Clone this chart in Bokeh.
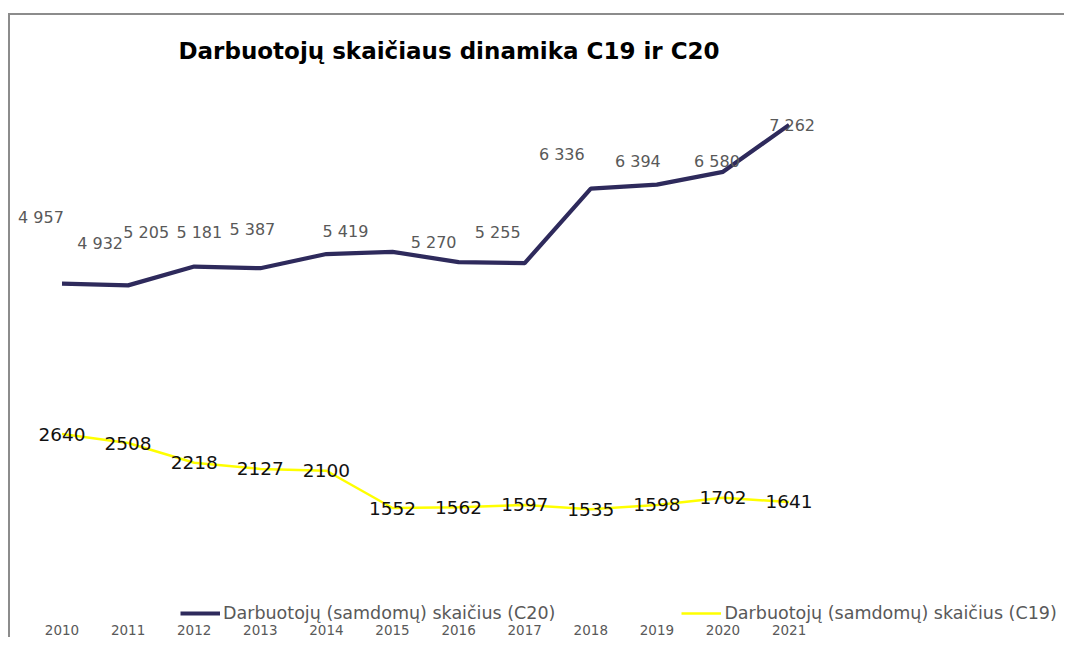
from bokeh.plotting import figure
from bokeh.models import ColumnDataSource, FixedTicker, Range1d, Label, Legend, LegendItem
from bokeh.core.properties import value
from bokeh.embed import file_html
from bokeh.resources import INLINE

# ---- data ----
years = [2010, 2011, 2012, 2013, 2014, 2015, 2016, 2017, 2018, 2019, 2020, 2021]
c20 = [4957, 4932, 5205, 5181, 5387, 5419, 5270, 5255, 6336, 6394, 6580, 7262]
c19 = [2640, 2508, 2218, 2127, 2100, 1552, 1562, 1597, 1535, 1598, 1702, 1641]
year_labels = [str(y) for y in years]
title_text = "Darbuotojų skaičiaus dinamika C19 ir C20"
c20_name = "Darbuotojų (samdomų) skaičius (C20)"
c19_name = "Darbuotojų (samdomų) skaičius (C19)"

# ---- label placement (pixels, screen) ----
c20_dx = [-21, -28, -48, -61, -74, -47, -25, -27, -29, -19, -6, 3]
c20_dy = [-66, -42, -34, -36, -25, -20, -20, -31, -34, -23, -10, 1]

FONT = "DejaVu Sans"
C20_COLOR = "#2e2a5c"
C19_COLOR = "#ffff00"
GRAY = "#595959"

src20 = ColumnDataSource(dict(
    x=years, y=c20,
    lab=[f"{v:,}".replace(",", " ") for v in c20],
    dx=c20_dx, dy=c20_dy))
src19 = ColumnDataSource(dict(x=years, y=c19, lab=[str(v) for v in c19]))

p = figure(frame_width=1054, frame_height=609,
           x_range=Range1d(2009.2209, 2025.1664),
           y_range=Range1d(10, 8849),
           output_backend="svg", toolbar_location=None,
           y_axis_location=None, min_border=0,
           styles={"margin-top": "13px", "margin-left": "8px",
                   "border-top": "2px solid #8c8c8c",
                   "border-left": "2px solid #8c8c8c"})
p.extra_y_ranges = {"c19": Range1d(-161, 8795)}

p.xgrid.visible = False
p.ygrid.visible = False
p.outline_line_color = None
p.background_fill_color = "white"
p.border_fill_color = "white"

ax = p.xaxis[0]
ax.ticker = FixedTicker(ticks=years)
ax.major_label_overrides = {y: s for y, s in zip(years, year_labels)}
ax.axis_line_color = None
ax.major_tick_line_color = None
ax.minor_tick_line_color = None
ax.major_tick_out = 0
ax.major_tick_in = 0
ax.major_label_standoff = 0
ax.major_label_text_font = FONT
ax.major_label_text_font_size = "13.5px"
ax.major_label_text_color = GRAY

r20 = p.line("x", "y", source=src20, line_color=C20_COLOR, line_width=4.2)
r19 = p.line("x", "y", source=src19, line_color=C19_COLOR, line_width=2.5,
             y_range_name="c19")

p.text("x", "y", text="lab", source=src20, x_offset="dx", y_offset="dy",
       text_font=value(FONT), text_font_size="16px", text_color=GRAY,
       text_align="center", text_baseline="middle")
p.text("x", "y", text="lab", source=src19, y_range_name="c19",
       text_font=value(FONT), text_font_size="18.5px", text_color="#111111",
       text_align="center", text_baseline="middle")

p.add_layout(Label(x=168, y=574, x_units="screen", y_units="screen",
                   text=title_text, text_font=FONT, text_font_size="23px",
                   text_font_style="bold", text_color="#000000",
                   text_baseline="alphabetic", text_align="left"))

legend = Legend(items=[LegendItem(label=c20_name, renderers=[r20]),
                       LegendItem(label=c19_name, renderers=[r19])],
                orientation="horizontal", location=(170, 1),
                padding=0, margin=0, spacing=126, glyph_width=40,
                glyph_height=20, label_standoff=3, label_height=20,
                border_line_color=None, background_fill_alpha=0,
                label_text_font=FONT, label_text_font_size="17.5px",
                label_text_color=GRAY)
p.add_layout(legend)

open("out.html", "w").write(file_html(p, INLINE))
